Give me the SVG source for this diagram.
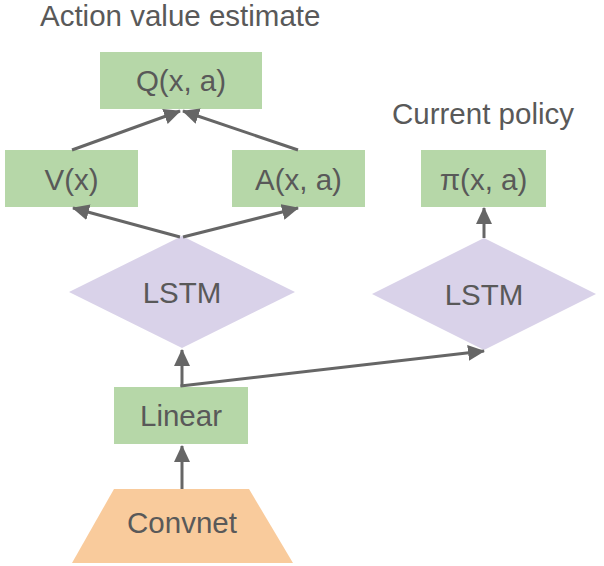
<svg xmlns="http://www.w3.org/2000/svg" width="604" height="566" viewBox="0 0 604 566">
<style>
  text { font-family: "Liberation Sans", Arial, sans-serif; font-size: 29.5px; fill: #595959; text-anchor: middle; }
  .title { text-anchor: start; }
  .box { fill: #b6d7a8; }
  .lstm { fill: #d9d2e9; }
  .conv { fill: #f9cb9c; }
  .edge { stroke: #666666; stroke-width: 3; fill: none; marker-end: url(#arrow); }
</style>
<defs>
  <marker id="arrow" markerUnits="userSpaceOnUse" markerWidth="18" markerHeight="16" refX="16" refY="8" orient="auto">
    <path d="M0,0 L17,8 L0,16 Z" fill="#666666"/>
  </marker>
</defs>
<rect width="604" height="566" fill="#ffffff"/>
<text class="title" x="40" y="26">Action value estimate</text>
<text class="title" x="392" y="124">Current policy</text>
<g id="Q"><rect class="box" x="100" y="52" width="162" height="57"/><text x="181" y="91">Q(x, a)</text></g>
<g id="V"><rect class="box" x="5" y="150" width="133" height="57"/><text x="71.5" y="190">V(x)</text></g>
<g id="A"><rect class="box" x="232" y="150" width="133" height="57"/><text x="298.5" y="190">A(x, a)</text></g>
<g id="pi"><rect class="box" x="421" y="150" width="125" height="57"/><text x="483.5" y="190">π(x, a)</text></g>
<g id="lstm1"><polygon class="lstm" points="182,236 295,292 182,348 69,292"/><text x="182" y="303">LSTM</text></g>
<g id="lstm2"><polygon class="lstm" points="484,238 596,294 484,350 372,294"/><text x="484" y="305">LSTM</text></g>
<g id="linear"><rect class="box" x="114" y="387" width="134" height="57"/><text x="181" y="426">Linear</text></g>
<g id="convnet"><polygon class="conv" points="114,489 249,489 293,563 72,563"/><text x="182" y="533">Convnet</text></g>
<g id="connectors">
  <line class="edge" x1="72" y1="150" x2="180" y2="111"/>
  <line class="edge" x1="298" y1="150" x2="183" y2="111"/>
  <line class="edge" x1="180" y1="237" x2="73" y2="208"/>
  <line class="edge" x1="183" y1="237" x2="298" y2="208"/>
  <line class="edge" x1="484" y1="238" x2="484" y2="208"/>
  <line class="edge" x1="182" y1="387" x2="182" y2="350"/>
  <line class="edge" x1="180.5" y1="386" x2="484" y2="351"/>
  <line class="edge" x1="182" y1="489" x2="182" y2="446"/>
</g>
</svg>
